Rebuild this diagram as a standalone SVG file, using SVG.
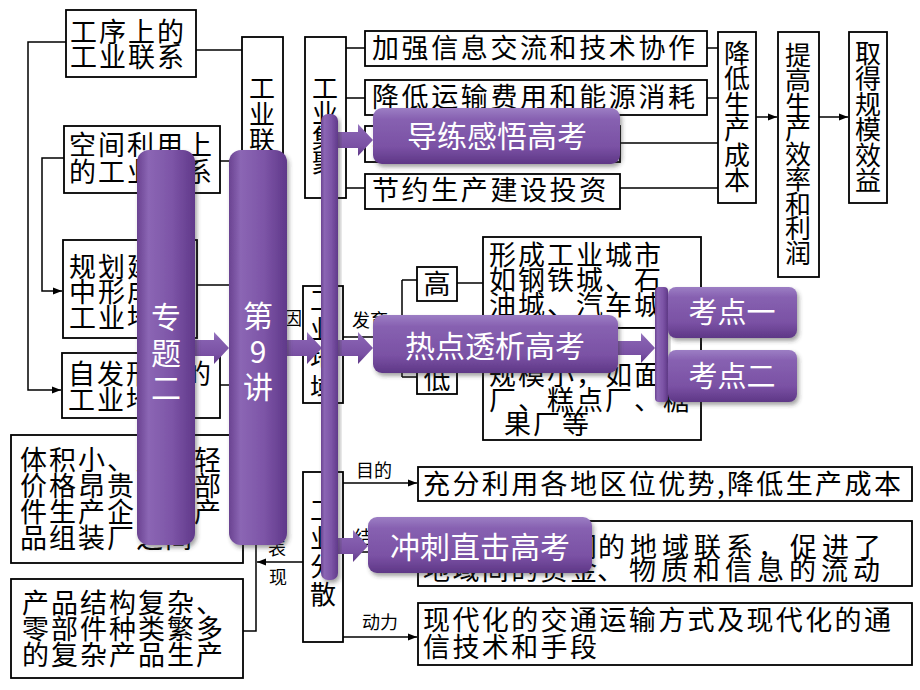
<svg xmlns="http://www.w3.org/2000/svg" width="920" height="690" viewBox="0 0 920 690">
<defs>
<style>
.b{fill:#fff;stroke:#000;stroke-width:1.8}
.t{font-family:"Noto Sans CJK SC","Noto Sans CJK JP",sans-serif;font-size:27px;letter-spacing:2px;fill:#000}
.v{font-family:"Noto Sans CJK SC","Noto Sans CJK JP",sans-serif;font-size:26px;text-anchor:middle;fill:#000}
.s{font-family:"Noto Sans CJK SC","Noto Sans CJK JP",sans-serif;font-size:18px;fill:#000}
.w{font-family:"Noto Sans CJK SC","Noto Sans CJK JP",sans-serif;font-size:30px;text-anchor:middle;fill:#fff}
.ln{stroke:#000;stroke-width:1.5;fill:none}
.pv{fill:url(#gv);filter:url(#sh)}
.ph{fill:url(#gh);filter:url(#sh)}
.pa{fill:url(#gh)}
</style>
<linearGradient id="gv" x1="0" y1="0" x2="1" y2="0">
<stop offset="0" stop-color="#6a4391"/>
<stop offset="0.2" stop-color="#8b66b4"/>
<stop offset="0.6" stop-color="#7d55a7"/>
<stop offset="1" stop-color="#60398a"/>
</linearGradient>
<linearGradient id="gh" x1="0" y1="0" x2="0" y2="1">
<stop offset="0" stop-color="#9c7ec4"/>
<stop offset="0.2" stop-color="#8761b1"/>
<stop offset="0.7" stop-color="#7a51a4"/>
<stop offset="1" stop-color="#5e3786"/>
</linearGradient>
<filter id="sh" x="-20%" y="-20%" width="140%" height="140%">
<feDropShadow dx="2" dy="3" stdDeviation="2" flood-color="#333" flood-opacity="0.45"/>
</filter>
<marker id="ar" viewBox="0 0 10 10" refX="10" refY="5" markerWidth="9" markerHeight="9" markerUnits="userSpaceOnUse" orient="auto">
<path d="M0,1 L10,5 L0,9 Z" fill="#000"/>
</marker>
</defs>
<rect width="920" height="690" fill="#fff"/>

<g id="connectors">
<path class="ln" d="M66,42 H28 V390 H61" marker-end="url(#ar)"/>
<path class="ln" d="M64,158 H42 V291 H62" marker-end="url(#ar)"/>
<path class="ln" d="M196,50 H242"/>
<path class="ln" d="M220,161 H242"/>
<path class="ln" d="M197,285 H240"/>
<path class="ln" d="M220,385 H240"/>
<path class="ln" d="M346,48 H365 M346,98 H365 M346,143 H365 M346,188 H365"/>
<path class="ln" d="M707,48 H718 M707,98 H718 M620,143 H718 M620,188 H718"/>
<path class="ln" d="M756,117 H777" marker-end="url(#ar)"/>
<path class="ln" d="M819,117 H848" marker-end="url(#ar)"/>
<path class="ln" d="M343,337 H402 M402,280 V377 M402,280 H417 M402,377 H417"/>
<path class="ln" d="M457,283 H483"/>
<path class="ln" d="M343,483 H417" marker-end="url(#ar)"/>
<path class="ln" d="M343,552 H417" marker-end="url(#ar)"/>
<path class="ln" d="M343,637 H417" marker-end="url(#ar)"/>
<path class="ln" d="M303,562 H257" marker-end="url(#ar)"/>
<path class="ln" d="M256,530 V631 H243"/>
</g>

<g id="n-gongxu"><rect class="b" x="66" y="10" width="130" height="67"/>
<text class="t" x="70"><tspan x="70" y="42">工序上的</tspan><tspan x="70" y="67">工业联系</tspan></text></g>
<g id="n-kongjian"><rect class="b" x="64" y="126" width="156" height="67"/>
<text class="t" x="69"><tspan x="69" y="155">空间利用上</tspan><tspan x="69" y="182">的工业联系</tspan></text></g>
<g id="n-guihua"><rect class="b" x="63" y="240" width="134" height="98"/>
<text class="t"><tspan x="69" y="277">规划建设</tspan><tspan x="69" y="302">中形成的</tspan><tspan x="69" y="328">工业地域</tspan></text></g>
<g id="n-zifa"><rect class="b" x="62" y="353" width="158" height="65"/>
<text class="t"><tspan x="68" y="384">自发形成的</tspan><tspan x="68" y="410">工业地域</tspan></text></g>
<g id="n-tiji"><rect class="b" x="11" y="435" width="232" height="128"/>
<text class="t"><tspan x="20" y="470">体积小、质量轻</tspan><tspan x="20" y="496">价格昂贵的零部</tspan><tspan x="20" y="522">件生产企业与产</tspan><tspan x="20" y="548">品组装厂之间</tspan></text></g>
<g id="n-chanpin"><rect class="b" x="11" y="579" width="232" height="99"/>
<text class="t"><tspan x="22" y="613">产品结构复杂、</tspan><tspan x="22" y="639">零部件种类繁多</tspan><tspan x="22" y="665">的复杂产品生产</tspan></text></g>

<g id="n-lianxi"><rect class="b" x="242" y="37" width="41" height="190"/>
<text class="v"><tspan x="262" y="98">工</tspan><tspan x="262" y="124">业</tspan><tspan x="262" y="150">联</tspan><tspan x="262" y="176">系</tspan></text></g>
<g id="n-jiju"><rect class="b" x="305" y="37" width="41" height="161"/>
<text class="v"><tspan x="325" y="98">工</tspan><tspan x="325" y="123">业</tspan><tspan x="325" y="148">集</tspan><tspan x="325" y="173">聚</tspan></text></g>
<g id="n-jiaqiang"><rect class="b" x="365" y="31" width="342" height="35"/>
<text class="t" x="372" y="58" style="letter-spacing:2.6px">加强信息交流和技术协作</text></g>
<g id="n-jiangdi"><rect class="b" x="365" y="80" width="342" height="35"/>
<text class="t" x="372" y="107" style="letter-spacing:2.6px">降低运输费用和能源消耗</text></g>
<g id="n-gongtong"><rect class="b" x="365" y="126" width="255" height="36"/>
<text class="t" x="372" y="154" style="letter-spacing:2.6px">共同利用基础设施</text></g>
<g id="n-jieyue"><rect class="b" x="365" y="174" width="255" height="35"/>
<text class="t" x="372" y="200" style="letter-spacing:2.6px">节约生产建设投资</text></g>
<g id="n-chengben"><rect class="b" x="718" y="32" width="38" height="171"/>
<text class="v"><tspan x="737" y="63">降</tspan><tspan x="737" y="88">低</tspan><tspan x="737" y="114">生</tspan><tspan x="737" y="139">产</tspan><tspan x="737" y="165">成</tspan><tspan x="737" y="190">本</tspan></text></g>
<g id="n-xiaolv"><rect class="b" x="778" y="32" width="41" height="245"/>
<text class="v"><tspan x="798" y="65">提</tspan><tspan x="798" y="90">高</tspan><tspan x="798" y="115">生</tspan><tspan x="798" y="139">产</tspan><tspan x="798" y="164">效</tspan><tspan x="798" y="189">率</tspan><tspan x="798" y="214">和</tspan><tspan x="798" y="238">利</tspan><tspan x="798" y="263">润</tspan></text></g>
<g id="n-xiaoyi"><rect class="b" x="849" y="32" width="38" height="171"/>
<text class="v"><tspan x="868" y="63">取</tspan><tspan x="868" y="88">得</tspan><tspan x="868" y="114">规</tspan><tspan x="868" y="139">模</tspan><tspan x="868" y="165">效</tspan><tspan x="868" y="190">益</tspan></text></g>

<g id="n-diyu"><rect class="b" x="303" y="286" width="40" height="117"/>
<text class="v"><tspan x="323" y="310">工</tspan><tspan x="323" y="339">业</tspan><tspan x="323" y="368">地</tspan><tspan x="323" y="397">域</tspan></text></g>
<text class="s" x="284" y="325">因</text>
<text class="s" x="352" y="327">发育</text>
<g id="n-gao"><rect class="b" x="417" y="267" width="40" height="34"/><text class="v" x="437" y="294" style="font-size:27px">高</text></g>
<g id="n-di"><rect class="b" x="417" y="360" width="40" height="34"/><text class="v" x="437" y="389" style="font-size:27px">低</text></g>
<g id="n-chengshi"><rect class="b" x="483" y="237" width="218" height="91"/>
<text class="t"><tspan x="489" y="265">形成工业城市</tspan><tspan x="489" y="290">如钢铁城、石</tspan><tspan x="489" y="315">油城、汽车城</tspan></text></g>
<g id="n-xiao"><rect class="b" x="483" y="328" width="218" height="112"/>
<text class="t"><tspan x="489" y="385">规模小，如面包</tspan><tspan x="489" y="410">厂、糕点厂、糖</tspan><tspan x="504" y="434">果厂等</tspan></text></g>

<g id="n-fensan"><rect class="b" x="303" y="472" width="40" height="170"/>
<text class="v"><tspan x="323" y="520">工</tspan><tspan x="323" y="548">业</tspan><tspan x="323" y="576">分</tspan><tspan x="323" y="604">散</tspan></text></g>
<text class="s" x="356" y="477">目的</text>
<text class="s" x="354" y="544">结果</text>
<text class="s" x="362" y="629">动力</text>
<text class="s" x="268" y="555">表</text>
<text class="s" x="269" y="584">现</text>
<g id="n-mudi"><rect class="b" x="418" y="467" width="494" height="34"/>
<text class="t" x="423" y="494" style="letter-spacing:2.4px">充分利用各地区位优势,降低生产成本</text></g>
<g id="n-jieguo"><rect class="b" x="418" y="521" width="494" height="65"/>
<text class="t" style="letter-spacing:2.4px"><tspan x="423" y="557">加强了工业间</tspan><tspan x="598" y="557" style="letter-spacing:5px">的地域联系，促进了</tspan><tspan x="423" y="580">地域间的资金</tspan><tspan x="597" y="580" style="letter-spacing:5px">、物质和信息的流动</tspan></text></g>
<g id="n-dongli"><rect class="b" x="418" y="603" width="494" height="62"/>
<text class="t" style="letter-spacing:2.4px"><tspan x="423" y="630">现代化的交通运输方式及现代化的通</tspan><tspan x="423" y="657">信技术和手段</tspan></text></g>

<g id="overlay-arrows">
<path class="pa" d="M195,340 H214 V332 L229,348 L214,364 V356 H195 Z"/>
<path class="pa" d="M287,340 H307 V332 L322,348 L307,364 V356 H287 Z"/>
<path class="pa" d="M337,132 H358 V124 L373,140 L358,156 V148 H337 Z"/>
<path class="pa" d="M337,340 H358 V332 L373,348 L358,364 V356 H337 Z"/>
<path class="pa" d="M337,538 H353 V530 L368,546 L353,562 V554 H337 Z"/>
<path class="pa" d="M618,341 H641 V333 L655,348 L641,363 V355 H618 Z"/>
</g>
<g id="n-zhuanti"><rect class="pv" x="137" y="150" width="58" height="395" rx="12"/>
<text class="w"><tspan x="166" y="328">专</tspan><tspan x="166" y="364">题</tspan><tspan x="166" y="399">二</tspan></text></g>
<g id="n-di9jiang"><rect class="pv" x="229" y="150" width="58" height="395" rx="12"/>
<text class="w"><tspan x="258" y="327">第</tspan><tspan x="258" y="363">9</tspan><tspan x="258" y="398">讲</tspan></text></g>
<g id="n-bar"><rect class="pv" x="321" y="114" width="17" height="466" rx="7"/></g>
<g id="n-daolian"><rect class="ph" x="373" y="108" width="247" height="56" rx="9"/>
<text class="w" x="497" y="147">导练感悟高考</text></g>
<g id="n-redian"><rect class="ph" x="373" y="315" width="245" height="58" rx="9"/>
<text class="w" x="495" y="357">热点透析高考</text></g>
<g id="n-chongci"><rect class="ph" x="368" y="517" width="224" height="56" rx="9"/>
<text class="w" x="480" y="558">冲刺直击高考</text></g>
<g id="n-smallbar"><rect class="pv" x="655" y="287" width="13" height="115" rx="4"/></g>
<g id="n-kaodian1"><rect class="ph" x="668" y="287" width="129" height="51" rx="8"/>
<text class="w" x="732" y="323" style="font-size:29px">考点一</text></g>
<g id="n-kaodian2"><rect class="ph" x="668" y="350" width="129" height="52" rx="8"/>
<text class="w" x="732" y="387" style="font-size:29px">考点二</text></g>
</svg>
